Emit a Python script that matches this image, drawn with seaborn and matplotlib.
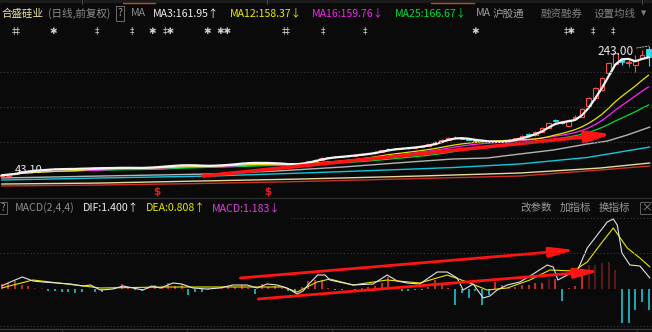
import numpy as np
import pandas as pd
import matplotlib
matplotlib.use("Agg")
import matplotlib.pyplot as plt
from matplotlib.lines import Line2D
from matplotlib.patches import Rectangle
import seaborn as sns

# ---------------- data ----------------
opens = [45.0, 45.2, 47.5, 49.9, 51.5, 52.9, 53.3, 54.3, 55.6, 55.8,
         55.0, 55.4, 55.5, 56.8, 57.3, 56.5, 56.9, 56.6, 57.0, 57.4,
         56.8, 56.7, 57.3, 58.6, 58.4, 59.6, 61.0, 60.6, 61.5, 61.0,
         60.4, 60.0, 60.3, 60.9, 61.4, 62.4, 65.0, 64.4, 64.5, 64.9,
         64.2, 64.4, 63.5, 62.8, 61.8, 62.9, 65.0, 67.0, 69.8, 73.4,
         72.9, 74.0, 74.8, 75.9, 77.0, 78.2, 79.4, 81.0, 86.2, 85.2,
         87.4, 86.9, 88.1, 89.3, 91.0, 92.8, 96.5, 100.0, 102.6, 103.2,
         101.4, 100.0, 97.6, 97.0, 96.4, 96.6, 97.2, 99.5, 102.0, 108.5,
         107.0, 112.5, 118.0, 129.6, 126.5, 121.5, 133.1, 134.7, 151.5, 163.6,
         175.9, 201.8, 215.5, 221.6, 217.1, 214.0, 224.7, 238.5]
highs = [46.8, 48.3, 50.4, 52.5, 53.6, 54.4, 55.0, 55.6, 56.4, 56.6,
         56.2, 56.3, 56.9, 57.4, 57.9, 57.6, 57.5, 58.3, 58.0, 57.9,
         57.5, 58.1, 58.6, 59.5, 60.3, 61.9, 61.8, 62.4, 62.1, 61.6,
         61.0, 60.9, 61.6, 62.0, 63.1, 64.6, 65.6, 65.3, 66.4, 65.4,
         66.0, 64.9, 63.9, 63.1, 63.5, 65.6, 67.8, 70.6, 73.5, 74.3,
         75.6, 75.6, 76.7, 77.8, 79.0, 80.3, 82.4, 85.0, 87.0, 87.4,
         88.5, 89.0, 90.3, 92.0, 94.0, 97.4, 101.3, 104.1, 105.0, 103.8,
         102.0, 100.5, 99.6, 97.8, 97.6, 98.0, 100.6, 103.0, 106.8, 110.8,
         113.6, 119.2, 126.2, 131.0, 127.8, 131.6, 137.7, 148.0, 165.0, 181.0,
         195.7, 218.6, 233.8, 224.7, 221.6, 229.3, 236.9, 243.0]
lows = [44.2, 43.1, 47.0, 49.5, 51.0, 52.2, 52.8, 53.8, 54.6, 54.7,
        54.5, 54.9, 55.1, 55.8, 56.0, 56.0, 56.2, 56.1, 56.4, 56.3,
        56.2, 56.3, 56.9, 57.9, 58.0, 59.2, 60.0, 60.1, 60.4, 59.8,
        59.4, 59.6, 59.9, 60.5, 61.0, 62.0, 63.8, 63.9, 64.0, 63.7,
        63.5, 63.0, 62.2, 61.2, 61.3, 62.5, 64.6, 66.6, 69.3, 72.1,
        72.4, 73.5, 74.3, 75.4, 76.5, 77.7, 78.9, 80.6, 84.4, 84.8,
        86.1, 86.3, 87.6, 88.8, 90.5, 92.3, 96.0, 99.4, 101.8, 100.6,
        99.3, 97.6, 96.6, 95.8, 95.9, 96.0, 96.8, 99.0, 101.5, 104.5,
        106.4, 111.8, 117.3, 127.5, 124.3, 120.5, 130.5, 134.0, 150.5, 161.0,
        174.0, 200.0, 214.0, 214.0, 211.0, 203.3, 223.2, 212.5]
closes = [45.7, 47.7, 49.7, 51.8, 52.7, 53.5, 54.1, 54.9, 55.3, 55.1,
          55.5, 55.6, 56.2, 56.3, 56.6, 56.9, 56.7, 57.2, 57.4, 56.8,
          56.9, 57.3, 57.8, 58.4, 59.6, 60.5, 60.6, 61.5, 61.0, 60.4,
          60.0, 60.3, 60.9, 61.4, 62.4, 63.6, 64.4, 64.7, 64.9, 64.2,
          64.6, 63.5, 62.8, 61.8, 62.9, 65.0, 67.0, 69.8, 72.3, 72.9,
          74.0, 74.8, 75.9, 77.0, 78.2, 79.4, 81.5, 84.3, 85.2, 86.5,
          86.9, 88.1, 89.3, 91.0, 92.8, 96.5, 100.0, 102.6, 103.2, 101.4,
          100.0, 98.2, 98.0, 96.4, 96.8, 97.2, 99.5, 102.0, 105.5, 107.0,
          112.5, 118.0, 125.2, 128.6, 125.6, 130.1, 135.0, 146.9, 163.6, 178.9,
          194.2, 217.1, 232.3, 219.0, 218.6, 221.6, 229.3, 226.2]

ma_windows = [3, 12, 16, 25]
ma_colors = ["#f4f4f4", "#e6e600", "#ff22ff", "#00dd33"]

# longer averages: knots (candle index, price)
ma_gray_idx = [0, 14.8, 31.3, 41.3, 51.2, 61.2, 67.7, 72.8, 77.7, 82.7, 87.8, 90.8, 93.8, 97.2]
ma_gray_val = [41.6, 44.6, 47.7, 52.3, 58.4, 66.0, 70.6, 72.1, 78.2, 84.3, 93.5, 98.0, 107.2, 119.4]
ma_cyan_idx = [0, 14.8, 31.3, 45.2, 57.8, 67.7, 77.7, 87.8, 97.2]
ma_cyan_val = [38.5, 41.6, 44.6, 49.2, 53.8, 57.6, 63.0, 72.9, 88.9]
ma_khaki_idx = [0, 14.8, 29.7, 44.7, 62.7, 77.7, 89.7, 97.2]
ma_khaki_val = [32.4, 33.9, 37.0, 40.0, 44.6, 49.2, 56.8, 64.5]
ma_red_idx = [0, 14.8, 29.7, 44.7, 62.7, 77.7, 89.7, 97.2]
ma_red_val = [29.4, 30.9, 33.2, 36.2, 40.8, 44.6, 53.8, 59.9]

# MACD(2,4,4)
macd_hist = [0.5, 0.6, 0.8, 0.4, 0.3, 0.1, 0.1, -0.2, -0.2, -0.3,
             -0.3, -0.4, -0.3, 0.0, -0.3, -0.3, -0.1, 0.2, 0.5, 0.1,
             -0.1, -0.2, 0.1, 0.4, 0.2, 0.6, 0.3, 0.4, -0.6, -0.3,
             -0.3, -0.1, 0.1, 0.1, 0.2, 0.2, 0.4, 0.1, -0.5, 0.5,
             0.2, 0.3, 0.1, -0.2, -0.4, 0.2, 0.8, 0.9, 0.9, 0.1,
             -0.1, -0.1, 0.0, -0.1, 0.1, 0.2, 0.3, 0.6, 1.2, 0.2,
             -0.2, -0.2, -0.1, -0.1, 0.2, 0.9, 0.6, 0.1, -1.6, -0.4,
             -0.9, -0.2, -1.6, -0.6, 0.7, 0.4, 0.2, 0.2, 0.4, 0.4,
             0.6, 0.6, 1.0, 1.0, -1.2, 0.1, 0.3, 1.7, 2.4, 2.4,
             2.6, 2.7, 1.9, -3.4, -3.4, -2.1, -1.3, -2.1]
macd_dim = [5, 6, 82, 88, 89, 90, 91, 92]
dif_idx = [0, 1.3, 3.1, 4.7, 6.2, 8.3, 10.3, 12.2, 13.3, 14.8, 16.7, 18.2, 19.7, 21.2,
           22.5, 23.8, 25.7, 27.0, 28.7, 30.8, 32.7, 34.7, 36.8, 38.3, 39.8, 41.3,
           42.8, 44.3, 45.2, 46.2, 47.4, 48.5, 49.2, 52.7, 55.7, 57.8, 59.3, 60.8,
           62.7, 65.3, 66.8, 68.3, 69.2, 70.7, 72.2, 73.2, 74.3, 75.8, 77.7, 79.7,
           81.8, 82.7, 83.4, 84.8, 86.3, 87.8, 89.3, 90.8, 91.7, 92.3, 93.0, 94.2,
           95.7, 97.2]
dif_val = [0.3, 0.7, 1.2, 0.8, 0.7, 0.6, 0.5, 0.3, 0.4, -0.1, 0.0, 0.3, 0.1, -0.1,
           0.3, 0.1, 0.6, 0.5, 0.1, 0.0, 0.1, 0.4, 0.4, 0.1, 0.5, 0.4,
           0.1, -0.5, -0.2, 0.6, 1.4, 1.4, 0.9, 0.4, 0.5, 1.4, 0.8, 0.6,
           0.5, 1.7, 1.7, 1.1, -0.1, 0.5, -0.9, -0.7, -0.1, 0.4, 0.7, 1.5,
           2.4, 2.2, 0.9, 1.4, 1.8, 4.1, 5.4, 6.7, 7.0, 6.4, 3.6, 2.4,
           2.3, 1.1]
dea_idx = [0, 4.7, 9.8, 14.8, 24.8, 34.7, 42.2, 44.3, 47.3, 49.2, 52.7, 57.8, 62.7,
           66.8, 69.8, 72.8, 75.8, 79.2, 82.2, 85.7, 87.8, 89.7, 91.7, 93.8, 95.7, 97.2]
dea_val = [0.1, 0.9, 0.5, 0.1, 0.2, 0.2, 0.2, -0.3, 0.7, 1.0, 0.4, 0.9, 0.6,
           1.4, 0.7, -0.1, 0.1, 0.9, 1.9, 1.8, 2.7, 4.4, 6.1, 4.1, 3.1, 2.2]

# hand-drawn red arrows (start, tip) in data units
arrow_main = [(30.2, 44.6), (91.5, 108.7)]
arrow_macd_up = [(35.8, 1.1), (86.0, 3.9)]
arrow_macd_low = [(38.5, -1.0), (89.7, 1.8)]

stock_name = "合盛硅业"
header_items = [("(日线,前复权)", "#8c8c8c"), ("MA", "#8c8c8c"),
                ("MA3:161.95↑", "#f0f0f0"), ("MA12:158.37↓", "#ecec00"),
                ("MA16:159.76↓", "#ff20ff"), ("MA25:166.67↓", "#00dd33"),
                ("MA", "#a0a0a0"), ("沪股通", "#a0a0a0"), ("融资融券", "#808080"),
                ("设置均线", "#808080"), ("▾", "#808080")]
header_x = [48, 131, 153, 230, 312, 395, 476, 493, 540, 593, 641]
macd_items = [("MACD(2,4,4)", "#8c8c8c"), ("DIF:1.400↑", "#f0f0f0"),
              ("DEA:0.808↑", "#e6e600"), ("MACD:1.183↓", "#e040e0")]
macd_x = [15, 83, 146, 212]
macd_tools = ["改参数", "加指标", "换指标"]
macd_tools_x = [520, 560, 599]
marks = ["‡‡", "✱", "‡", "‡", "✱", "‡✱", "✱", "✱✱", "‡‡", "‡", "‡", "✱", "‡✱", "‡", "‡"]
marks_x = [16, 53, 97, 132, 152, 169, 207, 224, 286, 323, 365, 475, 570, 593, 613]
dollar_x = [157, 268]

# ---------------- style ----------------
BG = "#0a0a0a"
sns.set_style("dark", {"axes.facecolor": BG, "figure.facecolor": BG})
plt.rcParams["font.family"] = ["Noto Sans CJK SC", "DejaVu Sans"]

W, H = 652, 332
fig = plt.figure(figsize=(W / 100, H / 100), dpi=100)
fig.patch.set_facecolor(BG)


def fy(py):
    return 1 - py / H


def fline(x0, x1, y0, y1, **kw):
    fig.add_artist(Line2D([x0 / W, x1 / W], [fy(y0), fy(y1)], transform=fig.transFigure, **kw))


def ftext(x, y, s, **kw):
    kw.setdefault("va", "center")
    return fig.text(x / W, fy(y), s, **kw)


ax = fig.add_axes([0, fy(197), 1, (197 - 20) / H])
ax2 = fig.add_axes([0, fy(328), 1, (328 - 199) / H])
for a in (ax, ax2):
    a.set_facecolor(BG)
    a.axis("off")

N = len(closes)
idx = np.arange(N)
o = np.array(opens); c = np.array(closes); hi = np.array(highs); lo = np.array(lows)

# grid lines
dot = dict(color="#3a3a3a", lw=0.8, ls=(0, (1, 2)))
for gy in (72, 107, 142):
    fline(0, W, gy, gy, **dot)
fline(0, W, 197.5, 197.5, color="#2c2c2c", lw=1.0)
fline(290, W, 218, 218, **dot)
fline(0, W, 253, 253, **dot)
fline(0, W, 325.5, 325.5, **dot)
fline(0, W, 328.5, 328.5, color="#3a3a3a", lw=1.0)
for tx in (62, 187, 332, 485, 637):
    fline(tx, tx, 328.5, 332, color="#3a3a3a", lw=0.8)

# top tab strip
fig.add_artist(Rectangle((0, fy(3)), 1, 3 / H, transform=fig.transFigure, color="#1b1b1b", lw=0))
for (a0, a1) in ((123, 155), (431, 474)):
    fline(a0, a1, 3, 3, color="#b8501e", lw=1.0)
for vx in (82, 267, 642):
    fline(vx, vx, 0, 4, color="#444444", lw=0.8)

# ---------------- main panel ----------------
ax.set_xlim(-0.24, 97.51)
ax.set_ylim(12.6, 282.7)

UP = "#f05050"
DN = "#30e0f0"
up = c >= o
body_lo = np.minimum(o, c); body_hi = np.maximum(o, c)
ax.vlines(idx[up], lo[up], body_lo[up], color=UP, lw=0.8, zorder=2)
ax.vlines(idx[up], body_hi[up], hi[up], color=UP, lw=0.8, zorder=2)
ax.vlines(idx[~up], lo[~up], hi[~up], color=DN, lw=0.8, zorder=2)
ax.bar(idx[up], np.maximum(c - o, 0.3)[up], bottom=o[up], width=0.7,
       facecolor=BG, edgecolor=UP, linewidth=0.8, zorder=2)
ax.bar(idx[~up], (o - c)[~up], bottom=c[~up], width=0.7,
       facecolor=DN, edgecolor=DN, linewidth=0.6, zorder=2)

for knots_x, knots_y, col in ((ma_red_idx, ma_red_val, "#c83028"),
                              (ma_khaki_idx, ma_khaki_val, "#e6dc9a"),
                              (ma_cyan_idx, ma_cyan_val, "#10c8dc"),
                              (ma_gray_idx, ma_gray_val, "#b4b4b4")):
    sns.lineplot(x=knots_x, y=knots_y, ax=ax, color=col, linewidth=1.0, legend=False, zorder=3)

cs = pd.Series(closes)
for win, col in zip(ma_windows[::-1], ma_colors[::-1]):
    ma = cs.rolling(win, min_periods=1).mean()
    lw = 1.6 if win == 3 else 0.9
    sns.lineplot(x=idx, y=ma.values, ax=ax, color=col, linewidth=lw, legend=False,
                 zorder=5 if win == 3 else 3)

ax.annotate("", xy=arrow_main[1], xytext=arrow_main[0],
            arrowprops=dict(arrowstyle="-|>,head_length=1.5,head_width=0.35", color="#ff1414",
                            lw=2.6, shrinkA=0, shrinkB=0, mutation_scale=10), zorder=6)

imin = int(np.argmin(lo)); imax = int(np.argmax(hi))
ax.annotate(f"{lo[imin]:.2f}", xy=(imin, lo[imin]), xytext=(5, 5), textcoords="offset points",
            color="#e8e8e8", fontsize=8, ha="left", va="center", zorder=7)
ax.annotate(f"{hi[imax]:.2f}", xy=(imax, hi[imax]), xytext=(-11, -4), textcoords="offset points",
            color="#e8e8e8", fontsize=8.5, ha="right", va="center", zorder=7,
            arrowprops=dict(arrowstyle="-", color="#c0c0c0", lw=0.6, ls=(0, (2, 1.5)),
                            shrinkA=0, shrinkB=0))

# ---------------- MACD panel ----------------
ax2.set_xlim(-0.24, 97.51)
ax2.set_ylim(-3.9, 9.0)
hist = np.array(macd_hist)
cols = []
for i, v in enumerate(hist):
    if v < 0:
        cols.append("#20d4e6")
    elif i in macd_dim:
        cols.append("#6e2020")
    else:
        cols.append("#ff3434")
ax2.vlines(idx, 0, hist, colors=cols, lw=1.1, zorder=2)
sns.lineplot(x=dea_idx, y=dea_val, ax=ax2, color="#e6e600", linewidth=0.8, legend=False, zorder=3)
sns.lineplot(x=dif_idx, y=dif_val, ax=ax2, color="#e4e4e4", linewidth=0.8, legend=False, zorder=3)
for arr in (arrow_macd_up, arrow_macd_low):
    ax2.annotate("", xy=arr[1], xytext=arr[0],
                 arrowprops=dict(arrowstyle="-|>,head_length=1.5,head_width=0.3", color="#ff1414",
                                 lw=2.0, shrinkA=0, shrinkB=0, mutation_scale=10), zorder=6)

# ---------------- texts ----------------
FS = 7.6
ftext(2, 13.5, stock_name, color="#efe3a0", fontsize=FS)
for (s, col), x in zip(header_items, header_x):
    ftext(x, 13.5, s, color=col, fontsize=FS)
ftext(120, 13.5, "?", color="#a0a0a0", fontsize=FS - 0.2, ha="center",
      bbox=dict(boxstyle="square,pad=0.2", fc="none", ec="#707070", lw=0.7))
for s, x in zip(marks, marks_x):
    ftext(x, 31, s, color="#cfcfcf", fontsize=6.5, ha="center", family="DejaVu Sans")
for x in dollar_x:
    ftext(x, 192, "$", color="#e02020", fontsize=7.5, ha="center", family="DejaVu Sans",
          fontweight="bold")

ftext(3, 208, "?", color="#909090", fontsize=FS - 0.6, ha="center",
      bbox=dict(boxstyle="square,pad=0.15", fc="none", ec="#606060", lw=0.7))
for (s, col), x in zip(macd_items, macd_x):
    ftext(x, 208, s, color=col, fontsize=FS)
for s, x in zip(macd_tools, macd_tools_x):
    ftext(x, 208, s, color="#9a9a9a", fontsize=FS)
ftext(646, 208, "×", color="#909090", fontsize=FS, ha="center",
      bbox=dict(boxstyle="square,pad=0.1", fc="none", ec="#606060", lw=0.7))

fig.savefig("out.png", dpi=100, facecolor=BG)
